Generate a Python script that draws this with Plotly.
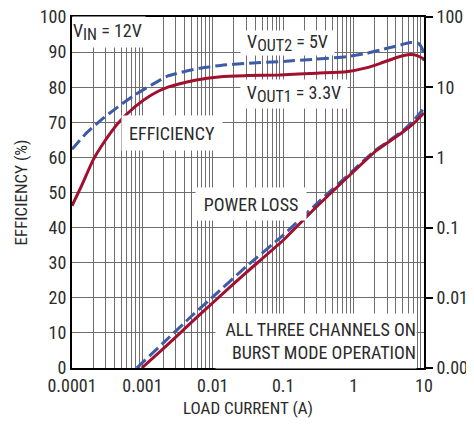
import plotly.graph_objects as go

# ---- data ----
eff_current_3v3 = [0.0001, 0.000135, 0.0002, 0.00026, 0.00045, 0.00078, 0.00134, 0.0023,
                   0.0056, 0.013, 0.03, 0.09, 0.3, 0.79, 1.5, 2.4, 4, 6.4, 8, 10]
eff_3v3 = [46.2, 51.7, 59.3, 63.1, 69.7, 74.4, 77.8, 80.0,
           82.0, 83.0, 83.3, 83.5, 84.0, 84.4, 85.5, 86.8, 88.4, 89.3, 89.0, 88.0]

eff_current_5v = [0.0001, 0.000151, 0.00026, 0.00045, 0.00078, 0.00134, 0.0023, 0.0066,
                  0.013, 0.03, 0.09, 0.3, 0.79, 1.5, 2.4, 4, 6.4, 8.3, 9.5, 10]
eff_5v = [62.3, 66.4, 70.7, 74.4, 77.8, 80.6, 83.2, 85.4,
          86.2, 86.8, 87.3, 88.0, 88.7, 89.6, 90.6, 91.7, 92.7, 92.5, 90.8, 87.5]

loss_current_3v3 = [0.00098, 0.002, 0.005, 0.01, 0.03, 0.1, 0.3, 1, 2, 3, 5, 7, 10]
loss_3v3 = [0.001, 0.0019, 0.0045, 0.0085, 0.023, 0.066, 0.2, 0.63, 1.2, 1.6, 2.3, 3.0, 4.3]

loss_current_5v = [0.00083, 0.002, 0.005, 0.01, 0.03, 0.1, 0.3, 1, 2, 3, 5, 7, 10]
loss_5v = [0.001, 0.0023, 0.0055, 0.0103, 0.028, 0.078, 0.22, 0.66, 1.25, 1.65, 2.4, 3.3, 5.0]

x_ticks = [0.0001, 0.001, 0.01, 0.1, 1, 10]
x_tick_labels = ["0.0001", "0.001", "0.01", "0.1", "1", "10"]
y_ticks = [0, 10, 20, 30, 40, 50, 60, 70, 80, 90, 100]
y2_ticks = [0.001, 0.01, 0.1, 1, 10, 100]
y2_tick_labels = ["0.001", "0.01", "0.1", "1", "10", "100"]

RED = "#a0102f"
BLUE = "#3d5ca8"
GRID = "#6e6e6e"
TXT = "#2b2b2b"
FONT = "Liberation Sans Narrow, Arial Narrow, Roboto Condensed, Liberation Sans, Arial, sans-serif"

fig = go.Figure()
fig.add_trace(go.Scatter(x=eff_current_5v, y=eff_5v, mode="lines",
                         line=dict(color=BLUE, width=3, dash="12px,5px", shape="spline", smoothing=0.6),
                         showlegend=False))
fig.add_trace(go.Scatter(x=eff_current_3v3, y=eff_3v3, mode="lines",
                         line=dict(color=RED, width=3, shape="spline", smoothing=0.6),
                         showlegend=False))
fig.add_trace(go.Scatter(x=loss_current_5v, y=loss_5v, mode="lines", yaxis="y2",
                         line=dict(color=BLUE, width=3, dash="12px,5px", shape="spline", smoothing=0.4),
                         showlegend=False))
fig.add_trace(go.Scatter(x=loss_current_3v3, y=loss_3v3, mode="lines", yaxis="y2",
                         line=dict(color=RED, width=3, shape="spline", smoothing=0.4),
                         showlegend=False))

# page body adds an 8px offset; target plot area in screenshot: x 72..424, y 17..368
OFF = 8
W, H = 474 - OFF, 425 - OFF
L, T = 72 - OFF, 17 - OFF
R = W - (424 - OFF)
B = H - (368 - OFF)
pw, ph = W - L - R, H - T - B


def px(x):
    return (x - 72) / pw


def py(y):
    return (368 - y) / ph


def label(text, cx, cy, w, h, align="center", valign="middle"):
    fig.add_annotation(text=text, xref="paper", yref="paper", x=px(cx), y=py(cy),
                       xanchor="center", yanchor="middle", showarrow=False,
                       width=w, height=h, align=align, valign=valign,
                       bgcolor="white", borderpad=0,
                       font=dict(family=FONT, size=18, color=TXT))


def sub(s):
    return '<sub><span style="font-size:16px">' + s + '</span></sub>'


label("V" + sub("IN") + " = 12V", 109, 32, 72, 30, align="left")
label("V" + sub("OUT2") + " = 5V", 287, 43, 93, 24)
label("V" + sub("OUT1") + " = 3.3V", 294, 94, 106, 28)
label("EFFICIENCY", 172, 133, 100, 34)
label("POWER LOSS", 251, 204, 110, 32)
label("ALL THREE CHANNELS ON<br>BURST MODE OPERATION", 316, 341, 200, 54, align="right")

fig.update_layout(
    width=W, height=H,
    margin=dict(l=L, r=R, t=T, b=B, pad=0),
    paper_bgcolor="white", plot_bgcolor="white",
    font=dict(family=FONT, size=18, color=TXT),
    xaxis=dict(type="log", range=[-4, 1], tickvals=x_ticks, ticktext=x_tick_labels,
               showgrid=True, gridcolor=GRID, gridwidth=1.2, automargin=False,
               ticklabeloverflow="allow",
               minor=dict(dtick="D1", showgrid=True, gridcolor=GRID, gridwidth=1.2, ticks=""),
               showline=True, linecolor="black", linewidth=2, mirror=True,
               ticks="", ticklen=0, zeroline=False,
               title=dict(text="LOAD CURRENT (A)", font=dict(size=17), standoff=8),
               tickfont=dict(size=18)),
    yaxis=dict(range=[0, 100], tickvals=y_ticks, showgrid=True, gridcolor=GRID, gridwidth=1.2,
               showline=True, linecolor="black", linewidth=2, mirror=True, automargin=False,
               ticklabeloverflow="allow",
               ticks="", zeroline=False,
               title=dict(text="EFFICIENCY (%)", font=dict(size=17), standoff=8),
               tickfont=dict(size=18)),
    yaxis2=dict(type="log", range=[-3, 2], overlaying="y", side="right", automargin=False,
                ticklabeloverflow="allow",
                tickvals=y2_ticks, ticktext=y2_tick_labels, showgrid=False,
                ticks="outside", ticklen=7, tickwidth=2, tickcolor="black",
                showline=True, linecolor="black", linewidth=2, zeroline=False,
                tickfont=dict(size=18)),
)

fig.write_html("out.html")
